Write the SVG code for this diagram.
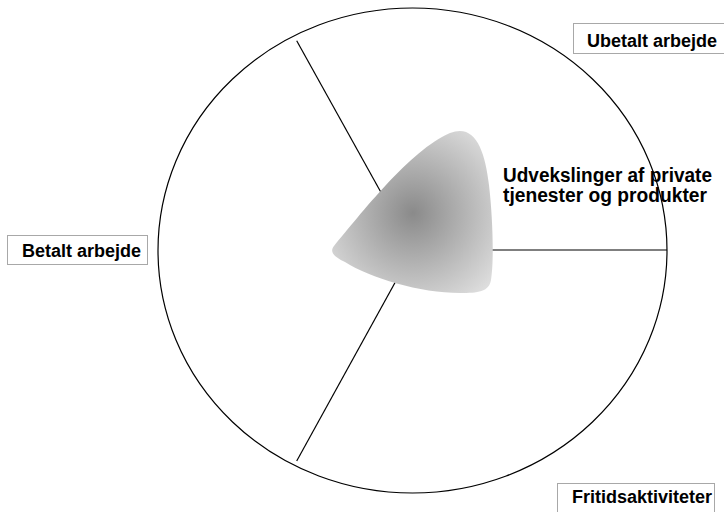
<svg xmlns="http://www.w3.org/2000/svg" width="724" height="512" viewBox="0 0 724 512">
<style>
.ln{stroke:#000;stroke-width:1.2;fill:none}
.box{fill:#fff;stroke:#a8a8a8;stroke-width:1}
.t{font-family:"Liberation Sans",Arial,sans-serif;font-weight:bold;font-size:18px;fill:#000}
.c{font-size:20px}
</style>
<defs>
<radialGradient id="g" gradientUnits="userSpaceOnUse" cx="413" cy="213" r="110">
<stop offset="0" stop-color="#8a8a8a"/>
<stop offset="1" stop-color="#e2e2e2"/>
</radialGradient>
</defs>
<rect width="724" height="512" fill="#fff"/>
<g id="circle"><ellipse class="ln" cx="412.5" cy="250.5" rx="254.5" ry="242.5"/></g>
<g id="connectors">
<line class="ln" x1="296.7" y1="40.7" x2="413" y2="250"/>
<line class="ln" x1="296.7" y1="461" x2="413" y2="250"/>
<line class="ln" x1="413" y1="250" x2="667" y2="250"/>
</g>
<g id="center">
<path d="M 334,246 C 360,215 410,150 450,133 C 475,123 485,150 489,185 C 493,220 494,262 491,280 C 489,292 478,293 460,293 C 420,293 370,278 345,262 C 332,256 330,251 334,246 Z" fill="url(#g)"/>
<text class="t c" x="503" y="182" textLength="209" lengthAdjust="spacingAndGlyphs">Udvekslinger af private</text>
<text class="t c" x="503" y="202" textLength="204" lengthAdjust="spacingAndGlyphs">tjenester og produkter</text>
</g>
<g id="ubetalt"><rect class="box" x="573.5" y="23.5" width="152" height="30"/><text class="t" x="587" y="47">Ubetalt arbejde</text></g>
<g id="betalt"><rect class="box" x="7.5" y="235.5" width="140" height="29"/><text class="t" x="22" y="257">Betalt arbejde</text></g>
<g id="fritid"><rect class="box" x="557.5" y="483.5" width="157" height="30"/><text class="t" x="572" y="503">Fritidsaktiviteter</text></g>
</svg>
